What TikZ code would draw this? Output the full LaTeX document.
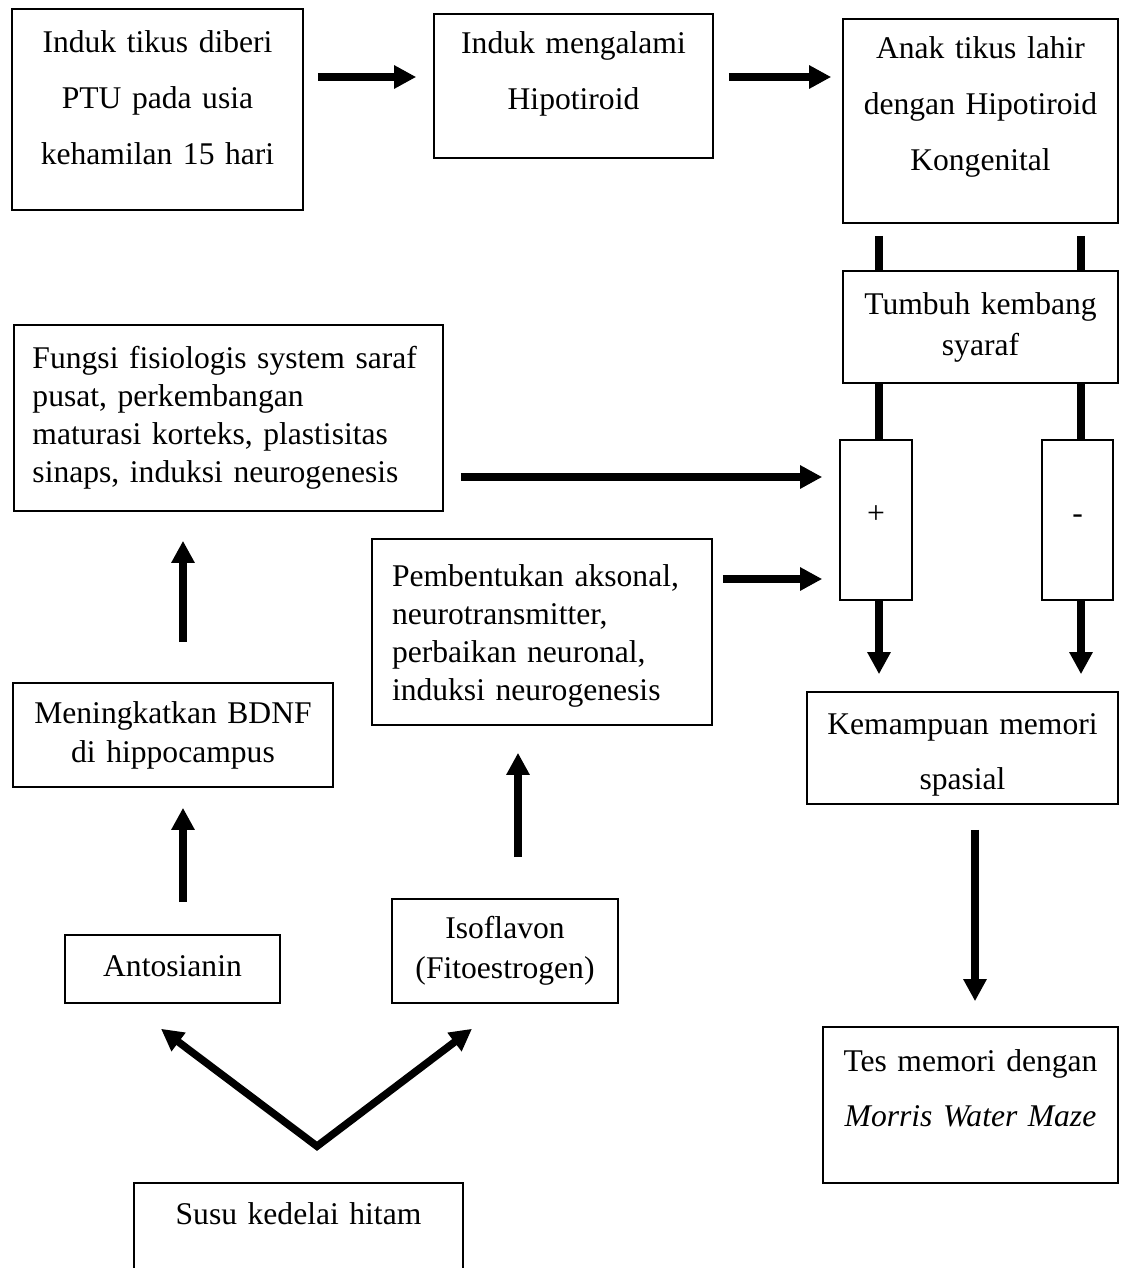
\documentclass[tikz,border=0pt]{standalone}
\usepackage{fontspec}
\setmainfont{Liberation Serif}
\usetikzlibrary{arrows.meta}

% kaki: tambah kedalaman baris terakhir supaya teks naik di dalam kotak
\newcommand{\kaki}[1]{\rule[-#1pt]{0pt}{0pt}}
% kepala: tambah tinggi baris pertama supaya teks turun
\newcommand{\kepala}[1]{\rule{0pt}{#1pt}}

\tikzset{
  kotak/.style={draw, line width=0.8pt, inner sep=0pt, align=center},
  renggang/.style={font=\fontsize{15.8}{28}\selectfont},
  rapat/.style={font=\fontsize{15.8}{19.5}\selectfont},
  ujung/.tip={Triangle[length=11pt,width=11pt]},
  panah/.style={line width=3.75pt, -ujung},
  batang/.style={line width=4pt}
}

\begin{document}
\begin{tikzpicture}[x=0.5pt, y=-0.5pt]
	\useasboundingbox (0,0) rectangle (1121,1268);
	\clip (0,0) rectangle (1121,1268);

		% baris atas
		\node[kotak, renggang, minimum width=145.5pt, minimum height=100.5pt, text width=135pt] (induk) at (157.5,109.5)
			{Induk tikus diberi\\PTU pada usia\\kehamilan 15 hari\kaki{12.2}};
		\node[kotak, renggang, minimum width=139.5pt, minimum height=72pt, text width=129pt] (hipo) at (573.5,86)
			{Induk mengalami\\Hipotiroid\kaki{15.2}};
		\node[kotak, renggang, minimum width=137.5pt, minimum height=102pt, text width=128pt] (anak) at (980.5,121)
			{Anak tikus lahir\\dengan Hipotiroid\\Kongenital\kaki{17.7}};

		% kolom kanan
		\node[kotak, font=\fontsize{15.8}{20.5}\selectfont, minimum width=137.5pt, minimum height=56pt, text width=128pt] (tumbuh) at (980.5,327)
			{Tumbuh kembang\\syaraf};
		\node[kotak, rapat, minimum width=36pt, minimum height=80pt] (plus) at (876,520) {+\kaki{5}};
		\node[kotak, rapat, minimum width=35.5pt, minimum height=80pt] (minus) at (1077.5,520) {-\kaki{1}};
		\node[kotak, font=\fontsize{15.8}{27.5}\selectfont, minimum width=155.5pt, minimum height=56pt, text width=146pt] (kemampuan) at (962.5,748)
			{\kepala{17.8}Kemampuan memori\\spasial};
		\node[kotak, font=\fontsize{15.8}{27.5}\selectfont, minimum width=147.5pt, minimum height=78pt, text width=138pt] (tes) at (970.5,1105)
			{Tes memori dengan\\\textit{Morris Water Maze}\kaki{17.2}};

		% kolom kiri
		\node[kotak, font=\fontsize{15.8}{19}\selectfont, align=left, inner xsep=9.25pt, minimum height=93pt, text width=196pt] (fungsi) at (228.5,418)
			{Fungsi fisiologis system saraf\\pusat, perkembangan\\maturasi korteks, plastisitas\\sinaps, induksi neurogenesis};
		\node[kotak, font=\fontsize{15.8}{19}\selectfont, align=left, inner xsep=10pt, minimum height=93pt, text width=150pt] (pembentukan) at (542,632)
			{\kepala{15.3}Pembentukan aksonal,\\neurotransmitter,\\perbaikan neuronal,\\induksi neurogenesis};
		\node[kotak, rapat, minimum width=160pt, minimum height=52pt, text width=150pt] (mening) at (173,735)
			{Meningkatkan BDNF\\di hippocampus};
		\node[kotak, rapat, minimum width=107.5pt, minimum height=34pt, text width=98pt] (antosianin) at (172.5,969)
			{Antosianin\kaki{2.7}};
		\node[kotak, font=\fontsize{15.8}{20}\selectfont, minimum width=113pt, minimum height=52pt, text width=104pt] (isoflavon) at (505,951)
			{Isoflavon\\(Fitoestrogen)};
		\node[kotak, rapat, minimum width=164.5pt, minimum height=56pt, text width=155pt] (susu) at (298.5,1239)
			{Susu kedelai hitam\kaki{25.7}};

		% panah baris atas
		\draw[panah, shorten <=7pt, shorten >=8.5pt] ([yshift=16.25pt]induk.east) -- ([yshift=16.25pt]induk.east -| hipo.west);
		\draw[panah, shorten <=7.5pt, shorten >=5.5pt] ([yshift=4.5pt]hipo.east) -- ([yshift=4.5pt]hipo.east -| anak.west);

		% batang tanpa ujung
		\draw[batang] ([xshift=-50.75pt,yshift=-6pt]anak.south) -- ([xshift=-50.75pt]tumbuh.north);
		\draw[batang] ([xshift=50.25pt,yshift=-6pt]anak.south) -- ([xshift=50.25pt]tumbuh.north);
		\draw[batang] ([xshift=-50.75pt]tumbuh.south) -- ([xshift=-50.75pt]tumbuh.south |- plus.north);
		\draw[batang] ([xshift=50.25pt]tumbuh.south) -- ([xshift=50.25pt]tumbuh.south |- minus.north);

		% ke kemampuan memori
		\draw[panah, shorten >=8.5pt] ([xshift=-50.75pt]tumbuh.south |- plus.south) -- ([xshift=-50.75pt]tumbuh.south |- kemampuan.north);
		\draw[panah, shorten >=8.5pt] ([xshift=50.25pt]tumbuh.south |- minus.south) -- ([xshift=50.25pt]tumbuh.south |- kemampuan.north);
		\draw[panah, shorten <=12.5pt, shorten >=12.5pt] ([xshift=6.25pt]kemampuan.south) -- ([xshift=6.25pt]kemampuan.south |- tes.north);

		% masuk ke kotak +
		\draw[panah, shorten <=8.5pt, shorten >=8.5pt] ([yshift=-29.5pt]fungsi.east) -- ([yshift=-29.5pt]fungsi.east -| plus.west);
		\draw[panah, shorten <=5pt, shorten >=8.5pt] ([yshift=26.5pt]pembentukan.east) -- ([yshift=26.5pt]pembentukan.east -| plus.west);

		% panah ke atas
		\draw[panah, shorten <=20pt, shorten >=14.5pt] ([xshift=5pt]mening.north) -- ([xshift=5pt]mening.north |- fungsi.south);
		\draw[panah, shorten <=16pt, shorten >=10pt] ([xshift=5pt]mening.south |- antosianin.north) -- ([xshift=5pt]mening.south);
		\draw[panah, shorten <=20.5pt, shorten >=13.5pt] ([xshift=6.5pt]isoflavon.north) -- ([xshift=6.5pt]isoflavon.north |- pembentukan.south);

		% cabang dari susu kedelai
		\coordinate (cabang) at ([xshift=9.25pt,yshift=18pt]susu.north);
		\coordinate (kiri) at ([xshift=-5.75pt,yshift=-12.5pt]antosianin.south);
		\coordinate (kanan) at ([xshift=-16.5pt,yshift=-12.5pt]isoflavon.south);
		\draw[line width=3.75pt, ujung-ujung] (kiri) -- (cabang) -- (kanan);

	\end{tikzpicture}
\end{document}
